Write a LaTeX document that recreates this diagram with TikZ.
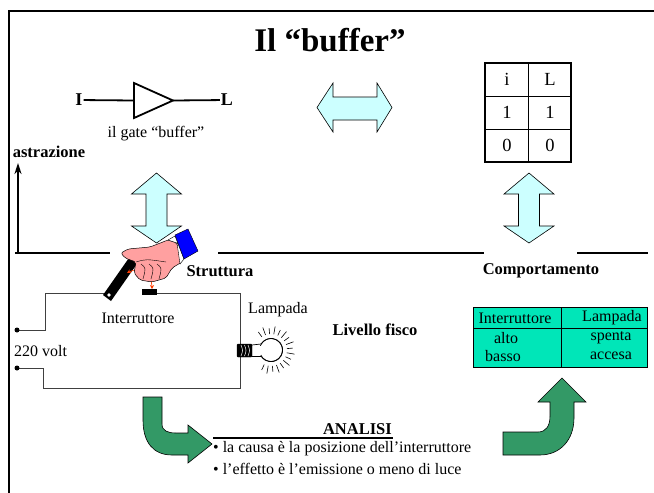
\documentclass[tikz,border=0pt]{standalone}
\usepackage{fontspec}
\setmainfont{Liberation Serif}
\usetikzlibrary{arrows.meta,calc}
\definecolor{lightcyan}{RGB}{204,255,255}
\definecolor{seagreen}{RGB}{51,153,102}
\definecolor{tablegreen}{RGB}{0,230,184}
\definecolor{skin}{RGB}{255,160,160}
\definecolor{redarrow}{RGB}{255,60,0}

\begin{document}
\begin{tikzpicture}[x=1pt,y=-1pt,
  txt/.style={font=\fontsize{16}{18}\selectfont, inner sep=1pt},
  lbl/.style={font=\fontsize{16.5}{18}\selectfont\bfseries, inner sep=1pt},
  tt/.style={font=\fontsize{18.5}{20}\selectfont, inner sep=1pt},
  bigarrow/.style={draw=black, line width=0.6pt, fill=lightcyan},
  bentarrow/.style={draw=black, line width=0.6pt, fill=seagreen},
  wire/.style={black!75, line width=0.8pt}]
\useasboundingbox (0,0) rectangle (654,493);

% frame and title
\draw[line width=2.5pt] (9,500) -- (9,11) -- (660,11);
\node[font=\fontsize{33}{36}\selectfont\bfseries] (title) at (330,40) {Il “buffer”};

% the gate
\node[lbl, font=\fontsize{18}{20}\selectfont\bfseries] (in) at (79,100) {I};
\node[lbl, font=\fontsize{18}{20}\selectfont\bfseries] (out) at (227,100) {L};
\coordinate (gin) at (134,100.5);
\coordinate (gout) at (173,100.5);
\draw[line width=1.8pt] (134,83) -- (gout) -- (134,118) -- cycle;
\draw[line width=1.8pt] (in) -- (gin);
\draw[line width=1.8pt] (gout) -- (out);
\node[txt] (gatelbl) at (156,134) {il gate “buffer”};

% truth table
\draw[line width=1.5pt] (485,63) rectangle (571,162);
\draw[line width=0.8pt] (528,63) -- (528,162);
\draw[line width=0.8pt] (485,96) -- (571,96);
\draw[line width=0.8pt] (485,129) -- (571,129);
\foreach \a/\b [count=\r] in {i/L,1/1,0/0} {
  \node[tt] (ta\r) at (507,46.5+33*\r) {\a};
  \node[tt] (tb\r) at (550,46.5+33*\r) {\b};
}

% light arrows
\draw[bigarrow] (317,107.5) -- (333,83) -- (333,97) -- (377,97) -- (377,83)
  -- (392,107.5) -- (377,132) -- (377,120) -- (333,120) -- (333,132) -- cycle;
\foreach \cx in {156.5,529} {
  \draw[bigarrow] (\cx,173) -- (\cx+25,194) -- (\cx+10.5,194) -- (\cx+10.5,226)
    -- (\cx+25,226) -- (\cx,243) -- (\cx-25,226) -- (\cx-10.5,226)
    -- (\cx-10.5,194) -- (\cx-25,194) -- cycle;
}

% abstraction axis and levels
\node[lbl] (astr) at (49,152) {astrazione};
\coordinate (origin) at (18,254);
\coordinate (top) at (18,163);
\draw[line width=2pt, -{Stealth[length=11pt,width=7pt]}] (origin) -- (top);
\draw[line width=1.5pt] (15,253) -- (110,253);
\draw[line width=1.5pt] (218,253) -- (484,253);
\draw[line width=1.5pt] (577,253) -- (648,253);
\node[lbl] (strutt) at (220,271) {Struttura};
\node[lbl] (comp) at (541,271) {Comportamento};

% circuit
\draw[wire] (17,330) -- (45,330) -- (45,293) -- (108,293);
\draw[wire] (157,293) -- (240,293) -- (240,345);
\draw[wire] (240,357) -- (240,388) -- (43,388) -- (43,368) -- (17,368);
\fill (17,330) circle (2.5);
\fill (17,368) circle (2.5);
\node[txt, anchor=west] (volt) at (13,351) {220 volt};
\node[txt] (interr) at (138,318) {Interruttore};
\node[txt] (lamp) at (278,310) {Lampada};

% switch lever and contact
\fill[black] (103,295) -- (111,301) -- (139,261) -- (131,255) -- cycle;
\fill[white] (109,295) circle (1.8);
\fill[black] (142,289) rectangle (157,295);
\draw[redarrow, line width=0.7pt, {Stealth[length=4pt,width=4pt]}-{Stealth[length=4pt,width=4pt]}]
  (127,273) .. controls (140,266) and (152,276) .. (152,289);

% hand
\filldraw[fill=skin, draw=black, line width=0.5pt, rounded corners=2pt]
  (121,253) -- (128,249) -- (150,247) -- (168,240) -- (177,243) -- (182,262)
  -- (172,268) -- (166,278) -- (152,282) -- (140,280) -- (134,273) -- (136,262)
  -- (125,258) -- cycle;
\foreach \x in {141,149,157} {
  \draw[line width=0.4pt] (\x,264) .. controls (\x+5,268) .. (\x+2,279);
}
\draw[line width=0.4pt] (136,262) .. controls (146,259) .. (166,262);
\filldraw[fill=white, draw=black, line width=0.4pt] (168,240) -- (175,236) -- (184,259) -- (180,264) -- (177,243) -- cycle;
\filldraw[fill=blue, draw=black, line width=0.4pt] (175,235) -- (188,229) -- (198,251) -- (184,259) -- cycle;

% lamp
\filldraw[fill=black, rounded corners=1pt] (237,344) rectangle (252,357);
\foreach \x in {241,244.5,248} {
  \draw[white, line width=0.5pt] (\x,345) .. controls (\x+2,350.5) .. (\x,356);
}
\draw[line width=0.7pt] (252,345) -- (261,344);
\draw[line width=0.7pt] (252,356) -- (261,356);
\draw[line width=0.7pt, fill=white] (271,350) circle (11.5);
\fill[white] (253,345.5) rectangle (261,355);
\draw[line width=0.7pt] (261,344) arc[start angle=-149,end angle=149,radius=11.7];
\foreach \a [count=\i] in {-125,-110,...,125} {
  \pgfmathsetmacro{\rr}{mod(\i,2)==0 ? 24 : 22}
  \draw[line width=0.6pt] ($(271,350)+(\a:16)$) -- ($(271,350)+(\a:\rr)$);
}
\node[lbl] (fisico) at (375,330) {Livello fisco};

% behaviour table
\draw[fill=tablegreen, line width=0.8pt] (473,307) rectangle (647,367);
\draw[line width=0.8pt] (561,307) -- (561,367);
\draw[line width=0.8pt] (473,328) -- (647,328);
\node[txt] (hint) at (515,318) {Interruttore};
\node[txt] (hlamp) at (612,318) {Lampada};
\node[txt] (alto) at (506,338) {alto};
\node[txt] (basso) at (503,356) {basso};
\node[txt] (spenta) at (611,338) {spenta};
\node[txt] (accesa) at (611,356) {accesa};

% bent arrows
\draw[bentarrow] (143,397) -- (162,397) -- (162,424) .. controls (162,431) and (168,433) .. (176,433)
  -- (188,433) -- (188,425) -- (212,444) -- (188,463) -- (188,455) -- (172,455)
  .. controls (153,455) and (143,442) .. (143,420) -- cycle;
\draw[bentarrow] (503,432) -- (538,432) .. controls (546,432) and (550,426) .. (550,416)
  -- (550,402) -- (538,402) -- (562,378) -- (586,402) -- (574,402) -- (574,418)
  .. controls (574,440) and (560,455) .. (540,455) -- (503,455) -- cycle;

% analysis
\node[font=\fontsize{16.5}{18}\selectfont\bfseries, inner sep=1pt, anchor=base east] (analisi) at (393,434) {ANALISI};
\coordinate (ul) at (213,438);
\draw[line width=1.3pt] (ul) -- (ul -| analisi.east);
\node[txt, anchor=west] (cause) at (212,449) {• la causa è la posizione dell’interruttore};
\node[txt, anchor=west] (effect) at (212,469) {• l’effetto è l’emissione o meno di luce};
\end{tikzpicture}
\end{document}
